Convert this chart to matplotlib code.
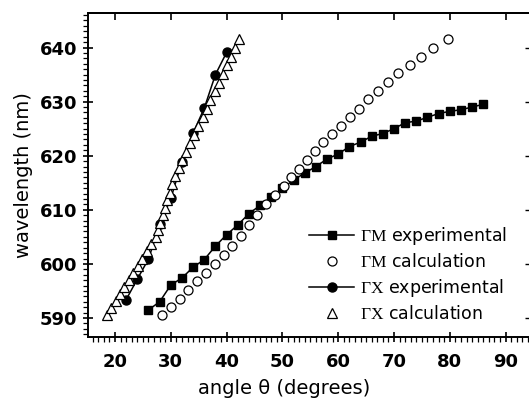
import matplotlib
matplotlib.use("Agg")
import matplotlib.pyplot as plt
from matplotlib.ticker import MultipleLocator

plt.rcParams['mathtext.fontset'] = 'custom'
plt.rcParams['mathtext.rm'] = 'Liberation Serif'
plt.rcParams['font.family'] = ['DejaVu Sans']

# Gamma-M experimental (filled squares)
gm_exp_angle = [26, 28, 30, 32, 34, 36, 38, 40, 42, 44, 46, 48, 50, 52, 54, 56,
                58, 60, 62, 64, 66, 68, 70, 72, 74, 76, 78, 80, 82, 84, 86]
gm_exp_wl = [591.5, 593.0, 596.1, 597.4, 599.4, 600.8, 603.3, 605.4, 607.2, 609.3,
             610.8, 612.3, 614.0, 615.5, 616.8, 618.0, 619.4, 620.3, 621.7, 622.5,
             623.6, 624.1, 625.0, 626.1, 626.4, 627.1, 627.8, 628.2, 628.5, 629.0, 629.5]

# Gamma-M calculation (open circles)
gm_calc_angle = [28.4, 30.1, 31.6, 33.1, 34.7, 36.3, 37.9, 39.5, 41.0, 42.5, 44.0,
                 45.5, 47.1, 48.7, 50.2, 51.6, 53.0, 54.4, 55.8, 57.3, 58.9, 60.5,
                 62.1, 63.7, 65.4, 67.1, 68.9, 70.8, 72.8, 74.8, 76.9, 79.6]
gm_calc_wl = [590.6, 592.1, 593.6, 595.2, 596.8, 598.4, 600.0, 601.6, 603.3, 605.2,
              607.2, 609.0, 611.0, 612.8, 614.4, 616.0, 617.6, 619.2, 620.8, 622.5,
              624.0, 625.5, 627.2, 628.7, 630.4, 631.9, 633.6, 635.2, 636.8, 638.3,
              639.9, 641.6]

# Gamma-X experimental (filled circles)
gx_exp_angle = [22, 24, 26, 28, 30, 32, 34, 36, 38, 40]
gx_exp_wl = [593.4, 597.2, 600.9, 607.3, 612.1, 618.9, 624.2, 628.8, 635.0, 639.1]

# Gamma-X calculation (open triangles)
gx_calc_angle = [18.5, 19.3, 20.1, 20.9, 21.7, 22.5, 23.3, 24.1, 24.9, 25.7, 26.5,
                 27.3, 27.7, 28.1, 28.6, 29.0, 29.4, 29.8, 30.3, 30.8, 31.4, 32.0,
                 32.7, 33.5, 34.2, 34.9, 35.7, 36.4, 37.1, 37.9, 38.6, 39.3, 40.1,
                 40.8, 41.5, 42.3]
gx_calc_wl = [590.6, 591.9, 593.2, 594.5, 595.8, 597.1, 598.4, 599.7, 601.0, 602.3,
              603.6, 604.9, 606.2, 607.6, 609.0, 610.4, 611.8, 613.2, 614.7, 616.2,
              617.7, 619.2, 620.7, 622.3, 623.9, 625.5, 627.1, 628.7, 630.3, 631.9,
              633.5, 635.1, 636.7, 638.3, 639.9, 641.5]

labels = [r'$\mathrm{\Gamma M}$ experimental', r'$\mathrm{\Gamma M}$ calculation',
          r'$\mathrm{\Gamma X}$ experimental', r'$\mathrm{\Gamma X}$ calculation']

W, H = 529, 398
fig = plt.figure(figsize=(W / 100, H / 100), dpi=100)
ax = fig.add_axes([88 / W, 1 - 337 / H, (530.5 - 88) / W, (337 - 13) / H])
AW = 530.5 - 88

ax.plot(gm_exp_angle, gm_exp_wl, '-', color='black', lw=1.1, marker='s', ms=5.5,
        mfc='black', mec='black', label=labels[0])
ax.plot(gm_calc_angle, gm_calc_wl, 'o', color='black', ms=6.5, mfc='white',
        mec='black', mew=0.9, label=labels[1])
ax.plot(gx_exp_angle, gx_exp_wl, '-', color='black', lw=1.1, marker='o', ms=6.5,
        mfc='black', mec='black', label=labels[2])
ax.plot(gx_calc_angle, gx_calc_wl, '^', color='black', ms=7, mfc='white',
        mec='black', mew=0.9, label=labels[3])

ax.set_xlim(15.16, 94.46)
ax.set_ylim(586.49, 646.38)
ax.xaxis.set_major_locator(MultipleLocator(10))
ax.xaxis.set_minor_locator(MultipleLocator(1))
ax.yaxis.set_major_locator(MultipleLocator(10))
ax.yaxis.set_minor_locator(MultipleLocator(1))

for s in ax.spines.values():
    s.set_linewidth(1.4)

ax.tick_params(axis='both', which='major', direction='inout', length=7, width=1.2,
               labelsize=13, top=False, right=False)
ax.tick_params(axis='both', which='minor', direction='out', length=3.5, width=0.9,
               top=False, right=False)
for lab in ax.get_xticklabels() + ax.get_yticklabels():
    lab.set_fontweight('bold')
ax.tick_params(axis='x', pad=8)
ax.tick_params(axis='y', pad=4)

# top and right major ticks pointing inward
sec_x = ax.secondary_xaxis('top')
sec_x.set_xticks(range(20, 100, 10))
sec_x.tick_params(direction='in', length=5, width=1.2, labeltop=False)
sec_x.spines['top'].set_linewidth(1.4)
sec_y = ax.secondary_yaxis('right')
sec_y.set_yticks(range(590, 650, 10))
sec_y.tick_params(direction='in', length=4, width=1.0, labelright=False)

ax.set_xlabel('angle θ (degrees)', fontsize=14)
ax.xaxis.set_label_coords((284 - 88) / AW, -0.13)
ax.set_ylabel('wavelength (nm)', fontsize=14)
ax.yaxis.set_label_coords(-(88 - 33) / AW, 0.5)

leg = ax.legend(loc='lower right', bbox_to_anchor=((517 - 88) / AW, 0.01),
                frameon=False, fontsize=12.5, handlelength=2.6, handletextpad=0.3,
                labelspacing=0.35, borderaxespad=0.2)

fig.savefig('out.png', dpi=100)
